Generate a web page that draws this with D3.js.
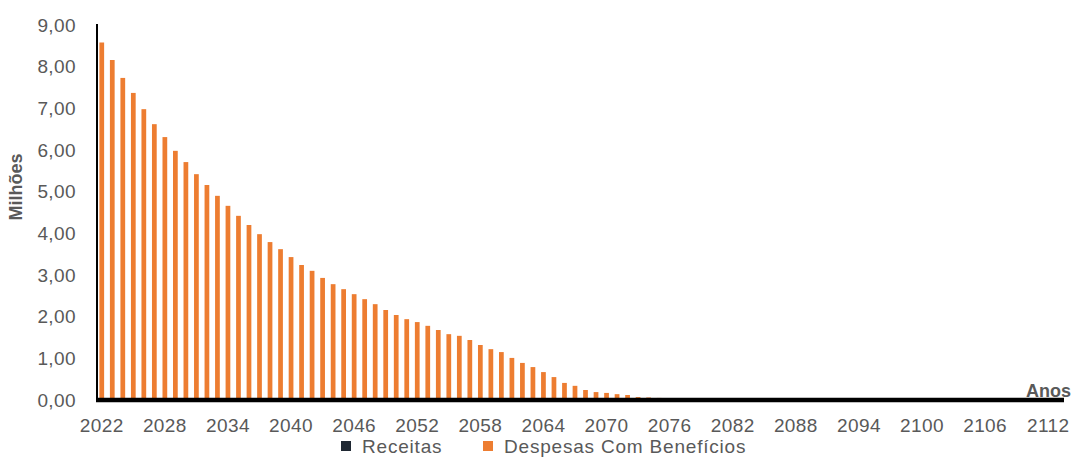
<!DOCTYPE html>
<html>
<head>
<meta charset="utf-8">
<script src="https://cdn.jsdelivr.net/npm/d3@7"></script>
<style>
  body { margin: 0; background: #fff; }
  svg { font-family: "Liberation Sans", Arial, sans-serif; }
</style>
</head>
<body>
<svg id="chart" width="1074" height="457"></svg>
<script>
// Years on the category axis (2022 to 2113)
const years = d3.range(2022, 2114);

// Tick labels shown every 6 years
const tickYears = [2022, 2028, 2034, 2040, 2046, 2052, 2058, 2064, 2070, 2076,
  2082, 2088, 2094, 2100, 2106, 2112];

// Y axis ticks (millions)
const yTicks = [0, 1, 2, 3, 4, 5, 6, 7, 8, 9];

// Receitas (all zero in the picture)
const receitas = [
  0, 0, 0, 0, 0, 0, 0, 0, 0, 0,
  0, 0, 0, 0, 0, 0, 0, 0, 0, 0,
  0, 0, 0, 0, 0, 0, 0, 0, 0, 0,
  0, 0, 0, 0, 0, 0, 0, 0, 0, 0,
  0, 0, 0, 0, 0, 0, 0, 0, 0, 0,
  0, 0, 0, 0, 0, 0, 0, 0, 0, 0,
  0, 0, 0, 0, 0, 0, 0, 0, 0, 0,
  0, 0, 0, 0, 0, 0, 0, 0, 0, 0,
  0, 0, 0, 0, 0, 0, 0, 0, 0, 0,
  0, 0
];

// Despesas Com Benefícios (millions)
const despesas = [
  8.58, 8.16, 7.73, 7.37, 6.98, 6.62, 6.31, 5.98, 5.71, 5.42,
  5.16, 4.90, 4.66, 4.42, 4.20, 3.98, 3.79, 3.62, 3.43, 3.24,
  3.10, 2.93, 2.78, 2.66, 2.54, 2.42, 2.30, 2.16, 2.04, 1.94,
  1.87, 1.78, 1.68, 1.58, 1.54, 1.44, 1.32, 1.22, 1.15, 1.01,
  0.89, 0.79, 0.67, 0.55, 0.41, 0.34, 0.24, 0.19, 0.17, 0.14,
  0.12, 0.07, 0.06, 0.05, 0, 0, 0, 0, 0, 0,
  0, 0, 0, 0, 0, 0, 0, 0, 0, 0,
  0, 0, 0, 0, 0, 0, 0, 0, 0, 0,
  0, 0, 0, 0, 0, 0, 0, 0, 0, 0,
  0, 0
];

const series = [
  { name: "Receitas", color: "#1f2833", values: receitas },
  { name: "Despesas Com Benefícios", color: "#ed7d31", values: despesas }
];

const svg = d3.select("#chart");
const textColor = "#595959";

const x = d3.scaleBand()
  .domain(years)
  .range([96.5, 1064])
  .paddingInner(0.55)
  .paddingOuter(0.275);

const y = d3.scaleLinear()
  .domain([0, 9])
  .range([400, 25]);

// Bars (series overlap fully, the second one drawn on top)
series.forEach((s) => {
  svg.append("g")
    .selectAll("rect")
    .data(years.map((yr, i) => ({ year: yr, value: s.values[i] })))
    .enter()
    .append("rect")
    .attr("x", (d) => x(d.year))
    .attr("y", (d) => y(d.value))
    .attr("width", x.bandwidth())
    .attr("height", (d) => y(0) - y(d.value))
    .attr("fill", s.color);
});

// Y axis labels
svg.append("g")
  .selectAll("text")
  .data(yTicks)
  .enter()
  .append("text")
  .attr("x", 76)
  .attr("y", (d) => y(d))
  .attr("dy", "0.35em")
  .attr("text-anchor", "end")
  .attr("fill", textColor)
  .attr("font-size", "19px")
  .attr("letter-spacing", "0.4px")
  .text((d) => d3.format(".2f")(d).replace(".", ","));

// X axis labels
svg.append("g")
  .selectAll("text")
  .data(tickYears)
  .enter()
  .append("text")
  .attr("x", (d) => x(d) + x.bandwidth() / 2)
  .attr("y", 432)
  .attr("text-anchor", "middle")
  .attr("fill", textColor)
  .attr("font-size", "19px")
  .attr("letter-spacing", "0.4px")
  .text((d) => d);

// Axis lines
svg.append("line")
  .attr("x1", 97).attr("x2", 97)
  .attr("y1", 24).attr("y2", 402)
  .attr("stroke", "#000")
  .attr("stroke-width", 2);

svg.append("line")
  .attr("x1", 96).attr("x2", 1064)
  .attr("y1", y(0)).attr("y2", y(0))
  .attr("stroke", "#000")
  .attr("stroke-width", 4.5);

// Axis titles
svg.append("text")
  .attr("transform", "translate(22,187) rotate(-90)")
  .attr("text-anchor", "middle")
  .attr("fill", textColor)
  .attr("font-size", "18px")
  .attr("font-weight", "bold")
  .text("Milhões");

svg.append("text")
  .attr("x", 1071)
  .attr("y", 397)
  .attr("text-anchor", "end")
  .attr("fill", textColor)
  .attr("font-size", "18px")
  .attr("font-weight", "bold")
  .text("Anos");

// Legend
const legendPos = [341, 483];
const legend = svg.append("g")
  .selectAll("g")
  .data(series)
  .enter()
  .append("g")
  .attr("transform", (d, i) => `translate(${legendPos[i]},441)`);

legend.append("rect")
  .attr("width", 10)
  .attr("height", 10)
  .attr("fill", (d) => d.color);

legend.append("text")
  .attr("x", 21)
  .attr("y", 12)
  .attr("fill", textColor)
  .attr("font-size", "19px")
  .attr("letter-spacing", "0.8px")
  .text((d) => d.name);
</script>
</body>
</html>
